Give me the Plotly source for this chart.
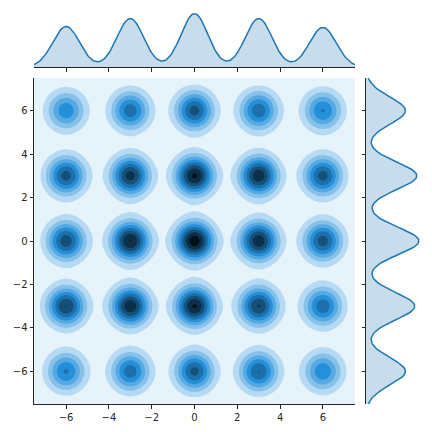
import colorsys
import numpy as np
import plotly.graph_objects as go

# ---- data ----
BLOB_CENTERS = [-6, -3, 0, 3, 6]
# peak density of each blob (in units of one contour step), x = -6 .. 6
PEAKS_Y6 = [4.7, 5.6, 6.4, 5.7, 5.05]
PEAKS_Y3 = [6.4, 7.4, 8.15, 7.7, 6.4]
PEAKS_Y0 = [6.6, 8.02, 8.6, 7.7, 6.45]
PEAKS_YM3 = [7.02, 7.75, 8.1, 7.05, 5.7]
PEAKS_YM6 = [5.1, 5.6, 6.3, 6.02, 4.8]
ROW_Y = [6, 3, 0, -3, -6]
# marginal KDE peak heights (relative), x = -6 .. 6 and y = -6 .. 6
TOP_MARGINAL_PEAKS = [41, 49, 54, 49, 40]
RIGHT_MARGINAL_PEAKS = [38, 47, 51, 49, 38]
TICKS = [-6, -4, -2, 0, 2, 4, 6]
TICK_LABELS = ["\u22126", "\u22124", "\u22122", "0", "2", "4", "6"]
BW_JOINT = 0.62
BW_MARGINAL = 0.63
N_LEVELS = 8
LIMIT = 7.5

# ---- density surfaces ----
grid = np.linspace(-LIMIT, LIMIT, 241)
X, Y = np.meshgrid(grid, grid)
Z = np.zeros_like(X)
for yc, row in zip(ROW_Y, [PEAKS_Y6, PEAKS_Y3, PEAKS_Y0, PEAKS_YM3, PEAKS_YM6]):
    for xc, p in zip(BLOB_CENTERS, row):
        Z += p * np.exp(-((X - xc) ** 2 + (Y - yc) ** 2) / (2 * BW_JOINT ** 2))

top_curve = np.zeros_like(grid)
for c, p in zip(BLOB_CENTERS, TOP_MARGINAL_PEAKS):
    top_curve += p * np.exp(-((grid - c) ** 2) / (2 * BW_MARGINAL ** 2))
right_curve = np.zeros_like(grid)
for c, p in zip(BLOB_CENTERS, RIGHT_MARGINAL_PEAKS):
    right_curve += p * np.exp(-((grid - c) ** 2) / (2 * BW_MARGINAL ** 2))

# ---- colours: seaborn-like light-to-dark blend of #1f77b4 ----
h, l0, s = colorsys.rgb_to_hls(31 / 255, 119 / 255, 180 / 255)
nb = N_LEVELS + 1
colorscale = []
for k in range(nb):
    l = 1 - (k + 0.5) / nb
    r, g, b = colorsys.hls_to_rgb(h, l, s)
    colorscale.append([k / N_LEVELS, "rgb(%d,%d,%d)" % (round(r * 255), round(g * 255), round(b * 255))])

LINE = "#1f77b4"
FILL = "rgba(31,119,180,0.25)"
AX = "#262626"

fig = go.Figure()
fig.add_trace(go.Contour(
    x=grid, y=grid, z=Z,
    autocontour=False,
    contours=dict(start=1, end=N_LEVELS, size=1, coloring="fill"),
    colorscale=colorscale, showscale=False,
    line=dict(width=0),
    hoverinfo="skip",
    xaxis="x", yaxis="y",
))
fig.add_trace(go.Scatter(
    x=grid, y=top_curve, mode="lines", fill="tozeroy", fillcolor=FILL,
    line=dict(color=LINE, width=1.5), xaxis="x2", yaxis="y2", showlegend=False,
))
fig.add_trace(go.Scatter(
    x=right_curve, y=grid, mode="lines", fill="tozerox", fillcolor=FILL,
    line=dict(color=LINE, width=1.5), xaxis="x3", yaxis="y3", showlegend=False,
))

# page body has an 8px margin, so the figure is 424px and positions are shifted by 8px
W = H = 424
OFF = 8
def px_x(v):
    return (v - OFF) / W
def px_y(v):
    return (H - (v - OFF)) / H

jx0, jx1 = px_x(34), px_x(355)
jy0, jy1 = px_y(404), px_y(78)
tick_common = dict(ticks="outside", ticklen=3.5, tickwidth=1, tickcolor=AX,
                   showline=True, linecolor=AX, linewidth=1, showgrid=False,
                   zeroline=False, mirror=False)
fig.update_layout(
    width=W, height=H,
    margin=dict(l=0, r=0, t=0, b=0),
    paper_bgcolor="white", plot_bgcolor="white",
    showlegend=False,
    font=dict(family="DejaVu Sans", size=10, color=AX),
    xaxis=dict(domain=[jx0, jx1], range=[-LIMIT, LIMIT], anchor="y",
               tickvals=TICKS, ticktext=TICK_LABELS, **tick_common),
    yaxis=dict(domain=[jy0, jy1], range=[-LIMIT, LIMIT], anchor="x",
               tickvals=TICKS, ticktext=TICK_LABELS, **tick_common),
    xaxis2=dict(domain=[jx0, jx1], range=[-LIMIT, LIMIT], anchor="y2",
                tickvals=TICKS, showticklabels=False, **tick_common),
    yaxis2=dict(domain=[px_y(67), px_y(11)], range=[0, 1.05 * top_curve.max()],
                anchor="x2", visible=False),
    xaxis3=dict(domain=[px_x(366), px_x(421.5)], range=[0, 1.05 * right_curve.max()],
                anchor="y3", visible=False),
    yaxis3=dict(domain=[jy0, jy1], range=[-LIMIT, LIMIT], anchor="x3",
                tickvals=TICKS, showticklabels=False, **tick_common),
)

fig.write_html("out.html")
